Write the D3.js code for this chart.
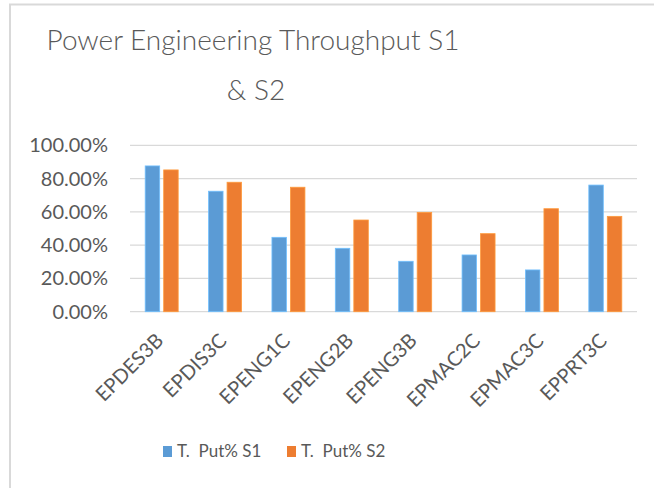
<!DOCTYPE html>
<meta charset="utf-8">
<style>
body { margin: 0; background: #fff; }
text { font-family: Lato, "Open Sans", sans-serif; fill: #595959; }
</style>
<svg width="654" height="488"></svg>
<script src="https://d3js.org/d3.v7.min.js"></script>
<script>

var categories = ["EPDES3B", "EPDIS3C", "EPENG1C", "EPENG2B", "EPENG3B", "EPMAC2C", "EPMAC3C", "EPPRT3C"];
var seriesNames = ["T.  Put% S1", "T.  Put% S2"];
var s1 = [0.876, 0.724, 0.447, 0.381, 0.303, 0.341, 0.251, 0.761];
var s2 = [0.852, 0.778, 0.748, 0.551, 0.597, 0.469, 0.619, 0.573];
var yTicks = [0, 0.2, 0.4, 0.6, 0.8, 1.0];
var colors = ["#5B9BD5", "#ED7D31"];

var svg = d3.select("svg");

// chart frame (only top and left edges show in the crop)
svg.append("line").attr("x1", 9).attr("x2", 654).attr("y1", 4.5).attr("y2", 4.5)
  .attr("stroke", "#d9d9d9").attr("stroke-width", 2);
svg.append("line").attr("x1", 10).attr("x2", 10).attr("y1", 4).attr("y2", 488)
  .attr("stroke", "#d9d9d9").attr("stroke-width", 2);

// title
var title = svg.append("text").attr("text-anchor", "middle")
  .style("font-size", "28px").style("font-weight", 300);
title.append("tspan").attr("x", 253).attr("y", 50).text("Power Engineering Throughput S1");
title.append("tspan").attr("x", 256).attr("y", 100).text("& S2");

var x = d3.scaleBand().domain(categories).range([130, 637]);
var y = d3.scaleLinear().domain([0, 1]).range([311.7, 145.3]);

// gridlines
svg.append("g").selectAll("line").data(yTicks).join("line")
  .attr("x1", 130).attr("x2", 637)
  .attr("y1", d => y(d)).attr("y2", d => y(d))
  .attr("stroke", "#d9d9d9").attr("stroke-width", 1.3);

// y axis labels
svg.append("g").selectAll("text").data(yTicks).join("text")
  .attr("x", 108).attr("y", d => y(d)).attr("dy", "0.35em")
  .attr("text-anchor", "end").style("font-size", "20px")
  .text(d => d3.format(".2%")(d));

// bars
var barW = 14.5, gap = 4;
var series = [s1, s2];
series.forEach(function (vals, si) {
  svg.append("g").selectAll("rect").data(vals).join("rect")
    .attr("x", (d, i) => x(categories[i]) + x.bandwidth() / 2 + (si === 0 ? -gap / 2 - barW : gap / 2))
    .attr("width", barW)
    .attr("y", d => y(d))
    .attr("height", d => y(0) - y(d))
    .attr("fill", colors[si])
    .attr("stroke", d3.color(colors[si]).brighter(0.6))
    .attr("stroke-width", 0.8);
});

// x labels rotated
svg.append("g").selectAll("text").data(categories).join("text")
  .attr("transform", d => "translate(" + (x(d) + x.bandwidth() / 2 - 2) + ",337) rotate(-45)")
  .attr("text-anchor", "end").attr("dy", "0.35em")
  .style("font-size", "20px")
  .text(d => d);

// legend
var legendX = [163, 287];
seriesNames.forEach(function (name, i) {
  svg.append("rect").attr("x", legendX[i]).attr("y", 446).attr("width", 9).attr("height", 11)
    .attr("fill", colors[i]);
  svg.append("text").attr("x", legendX[i] + 14).attr("y", 451.5).attr("dy", "0.35em")
    .attr("xml:space", "preserve").style("white-space", "pre")
    .style("font-size", "17px").text(name);
});

</script>
